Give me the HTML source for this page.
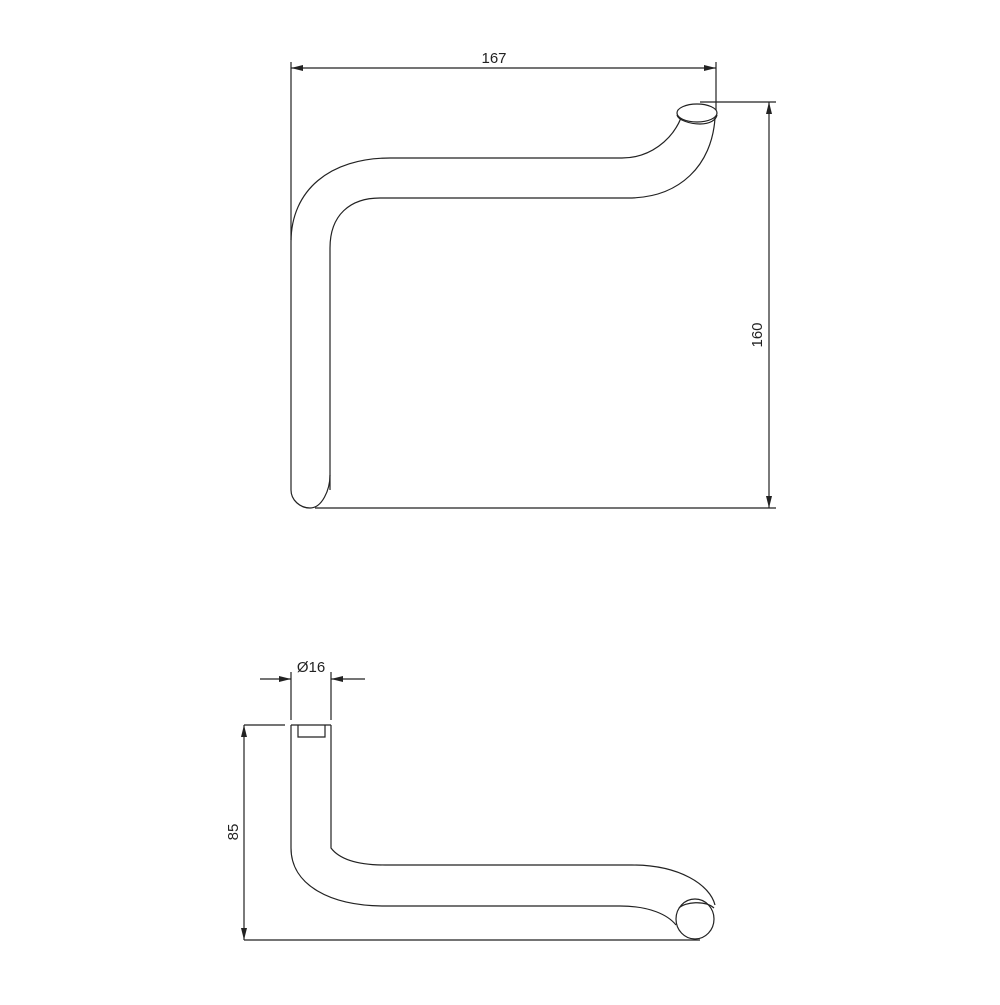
<!DOCTYPE html>
<html><head><style>body{margin:0;background:#fff}</style></head><body>
<svg width="1000" height="1000" viewBox="0 0 1000 1000" xmlns="http://www.w3.org/2000/svg">
<defs>
<marker id="a" markerWidth="12" markerHeight="6" refX="12" refY="3" orient="auto-start-reverse" markerUnits="userSpaceOnUse"><path d="M0,0 L12,3 L0,6 z" fill="#222"/></marker>
</defs>
<g fill="none" stroke="#222" stroke-width="1.2">
<line x1="291" y1="62" x2="291" y2="240"/>
<line x1="716" y1="62" x2="716" y2="110"/>
<line x1="291" y1="68" x2="716" y2="68" marker-start="url(#a)" marker-end="url(#a)"/>
<line x1="700" y1="102" x2="776" y2="102"/>
<line x1="315" y1="508" x2="776" y2="508"/>
<line x1="769" y1="102" x2="769" y2="508" marker-start="url(#a)" marker-end="url(#a)"/>
<path d="M291,490 L291,242 C291,190 330,158 390,158 L622,158 C650,158 672,140 681,118"/>
<path d="M330,490 L330,248 C330,215 350,198 380,198 L628,198 C680,198 712,165 715,118"/>
<path d="M291,490 C291,500 300,508 310,508 C322,508 330,490 330,475"/>
<ellipse cx="697" cy="113" rx="20" ry="9"/>
<path d="M677,115 C678,120 690,124 700,124 C710,124 716,120 717,115"/>
<line x1="291" y1="672" x2="291" y2="720"/>
<line x1="331" y1="672" x2="331" y2="720"/>
<line x1="260" y1="679" x2="291" y2="679" marker-end="url(#a)"/>
<line x1="365" y1="679" x2="331" y2="679" marker-end="url(#a)"/>
<line x1="244" y1="725" x2="285" y2="725"/>
<line x1="244" y1="940" x2="700" y2="940"/>
<line x1="244" y1="725" x2="244" y2="940" marker-start="url(#a)" marker-end="url(#a)"/>
<line x1="291" y1="725" x2="331" y2="725"/>
<path d="M298,725 L298,737 L325,737 L325,725"/>
<path d="M291,725 L291,848 C291,885 330,906 385,906 L620,906 C650,906 668,915 676,925"/>
<path d="M331,725 L331,848 C340,860 360,865 385,865 L632,865 C680,865 710,885 715,905"/>
<ellipse cx="695" cy="919" rx="19" ry="20"/>
<path d="M679,908 C685,902 705,900 714,908"/>
</g>
<g font-family="Liberation Sans, sans-serif" font-size="15" fill="#222" text-anchor="middle">
<text x="494" y="63">167</text>
<text x="311" y="672">Ø16</text>
<text transform="translate(762,335) rotate(-90)">160</text>
<text transform="translate(238,832) rotate(-90)">85</text>
</g>
</svg>
</body></html>
